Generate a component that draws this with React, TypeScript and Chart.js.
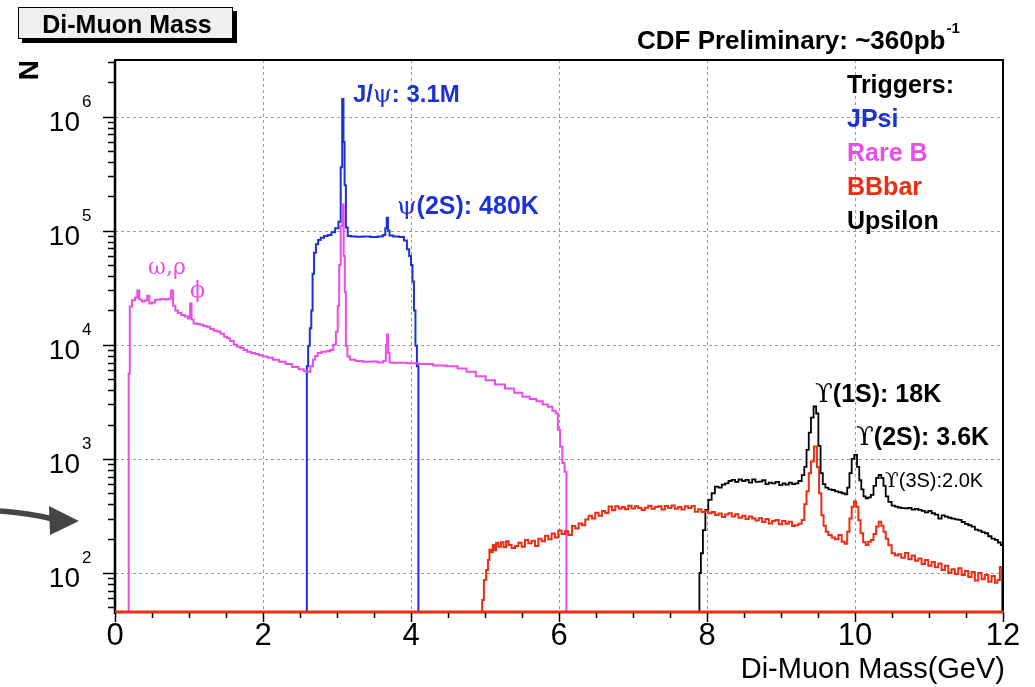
import React, { useEffect, useRef } from "react";
import { Chart, registerables } from "chart.js";

Chart.register(...registerables);

const W = 1035;
const H = 687;

// ---- axis settings ----
const X_MIN = 0;
const X_MAX = 12;
const Y_MIN = 45.5; // empty bins are drawn on this floor
const Y_MAX = 3.14e6;
const X_TICK_LABELS = [0, 2, 4, 6, 8, 10, 12];
const Y_DECADE_EXPONENTS = [2, 3, 4, 5, 6];

// ---- JPsi trigger ----
const jpsiMass = [0, 2.585, 2.6, 2.62, 2.645, 2.66, 2.68, 2.7, 2.73, 2.76, 2.8, 2.85, 2.9, 2.95, 3.0, 3.04, 3.06, 3.08, 3.095, 3.11, 3.13, 3.16, 3.22, 3.3, 3.4, 3.5, 3.6, 3.64, 3.665, 3.68, 3.7, 3.72, 3.8, 3.88, 3.93, 3.96, 3.99, 4.01, 4.03, 4.05, 4.07, 4.09, 4.11, 12];
const jpsiCounts = [0, 0, 6500, 9800, 14000, 20000, 42000, 64000, 76000, 83000, 87000, 90000, 92000, 97000, 105000, 120000, 360000, 1430000, 600000, 250000, 107000, 90000, 89000, 88500, 89000, 88000, 89000, 92000, 105000, 130000, 100000, 91000, 89000, 88000, 82000, 69000, 60000, 50000, 36000, 20000, 9800, 6500, 0, 0];

// ---- Rare B trigger ----
const rareBMass = [0, 0.18, 0.19, 0.21, 0.25, 0.29, 0.315, 0.34, 0.38, 0.42, 0.45, 0.48, 0.52, 0.56, 0.6, 0.65, 0.7, 0.74, 0.77, 0.8, 0.83, 0.87, 0.92, 0.97, 1.005, 1.025, 1.045, 1.08, 1.13, 1.17, 1.22, 1.26, 1.31, 1.36, 1.4, 1.45, 1.5, 1.53, 1.58, 1.63, 1.67, 1.72, 1.76, 1.81, 1.87, 1.92, 1.97, 2.03, 2.1, 2.17, 2.26, 2.35, 2.44, 2.52, 2.58, 2.62, 2.66, 2.69, 2.72, 2.76, 2.82, 2.88, 2.93, 2.97, 3.0, 3.02, 3.04, 3.06, 3.08, 3.1, 3.11, 3.13, 3.15, 3.2, 3.3, 3.4, 3.5, 3.6, 3.65, 3.67, 3.68, 3.7, 3.72, 3.8, 3.9, 4.0, 4.2, 4.4, 4.56, 4.7, 4.8, 4.95, 5.07, 5.2, 5.34, 5.45, 5.56, 5.65, 5.74, 5.82, 5.88, 5.94, 5.97, 6.0, 6.03, 6.06, 6.09, 6.11, 12];
const rareBCounts = [0, 0, 5600, 21700, 24600, 26000, 30000, 25000, 24000, 24500, 27000, 23000, 23500, 24800, 25000, 25200, 25000, 25300, 30000, 22000, 20000, 19000, 18300, 17700, 17000, 23000, 16700, 15400, 15200, 15000, 14600, 14400, 13800, 13300, 13100, 12500, 11800, 11400, 10800, 10000, 9600, 9400, 9000, 8700, 8500, 8300, 8100, 7900, 7700, 7400, 7100, 6800, 6400, 6100, 5900, 5800, 6500, 7400, 8000, 8500, 8700, 8800, 9000, 10000, 13000, 22000, 50000, 110000, 170000, 60000, 29000, 9800, 7900, 7400, 7200, 7100, 7150, 7000, 7200, 10000, 12300, 8500, 7000, 6950, 6950, 6900, 6800, 6600, 6500, 6200, 5800, 5300, 4900, 4500, 4150, 3800, 3500, 3350, 3200, 3000, 2870, 2650, 2500, 1800, 1280, 920, 770, 0, 0];

// ---- BBbar trigger ----
const bbbarMass = [0, 4.955, 4.97, 5.0, 5.03, 5.05, 5.07, 5.09, 5.12, 5.14, 5.16, 5.2, 5.23, 5.27, 5.3, 5.34, 5.38, 5.43, 5.47, 5.52, 5.56, 5.61, 5.65, 5.7, 5.74, 5.79, 5.83, 5.88, 5.92, 5.97, 6.01, 6.06, 6.1, 6.15, 6.2, 6.24, 6.29, 6.33, 6.38, 6.42, 6.47, 6.51, 6.56, 6.6, 6.65, 6.69, 6.74, 6.78, 6.83, 6.87, 6.91, 6.96, 7.0, 7.05, 7.09, 7.14, 7.18, 7.23, 7.27, 7.32, 7.36, 7.41, 7.45, 7.5, 7.54, 7.59, 7.63, 7.68, 7.72, 7.77, 7.81, 7.86, 7.9, 7.95, 7.99, 8.04, 8.09, 8.13, 8.18, 8.22, 8.27, 8.31, 8.36, 8.4, 8.45, 8.5, 8.54, 8.59, 8.63, 8.68, 8.72, 8.77, 8.81, 8.86, 8.9, 8.95, 8.99, 9.04, 9.08, 9.13, 9.17, 9.21, 9.26, 9.3, 9.33, 9.36, 9.39, 9.42, 9.47, 9.5, 9.53, 9.56, 9.59, 9.62, 9.66, 9.71, 9.75, 9.8, 9.84, 9.88, 9.91, 9.94, 9.97, 10.0, 10.03, 10.06, 10.09, 10.13, 10.16, 10.2, 10.23, 10.27, 10.3, 10.34, 10.37, 10.4, 10.43, 10.47, 10.52, 10.56, 10.6, 10.65, 10.7, 10.74, 10.79, 10.83, 10.88, 10.92, 10.97, 11.01, 11.06, 11.1, 11.15, 11.19, 11.24, 11.28, 11.33, 11.37, 11.42, 11.46, 11.51, 11.55, 11.6, 11.64, 11.69, 11.73, 11.78, 11.82, 11.87, 11.91, 11.94, 11.975, 12.0];
const bbbarCounts = [0, 0, 58, 87, 106, 130, 160, 152, 176, 158, 184, 170, 186, 168, 190, 176, 166, 172, 184, 170, 195, 182, 192, 172, 200, 190, 212, 198, 222, 205, 236, 220, 232, 215, 258, 245, 272, 262, 295, 318, 300, 338, 318, 350, 336, 382, 355, 385, 368, 378, 362, 388, 368, 384, 372, 356, 374, 388, 366, 378, 384, 360, 386, 372, 390, 366, 378, 360, 384, 372, 386, 345, 362, 342, 352, 334, 342, 322, 332, 310, 326, 334, 312, 328, 305, 318, 298, 312, 300, 288, 302, 280, 298, 272, 286, 292, 268, 286, 270, 282, 258, 262, 270, 292, 400, 520, 748, 950, 1282, 850, 500, 320, 260, 230, 215, 205, 198, 215, 188, 180, 230, 300, 380, 423, 380, 290, 223, 186, 176, 188, 195, 220, 255, 282, 260, 230, 200, 175, 149, 142, 146, 136, 150, 132, 142, 128, 134, 120, 130, 116, 125, 112, 121, 106, 116, 100, 108, 98, 110, 96, 104, 92, 102, 86, 100, 88, 96, 84, 94, 82, 87, 113, 0];

// ---- Upsilon trigger ----
const upsilonMass = [0, 7.89, 7.905, 7.93, 7.96, 7.995, 8.04, 8.085, 8.13, 8.18, 8.22, 8.27, 8.31, 8.36, 8.4, 8.45, 8.5, 8.54, 8.59, 8.63, 8.68, 8.72, 8.77, 8.81, 8.86, 8.9, 8.95, 9.0, 9.04, 9.08, 9.13, 9.17, 9.21, 9.26, 9.3, 9.33, 9.36, 9.39, 9.42, 9.46, 9.49, 9.52, 9.55, 9.58, 9.62, 9.66, 9.71, 9.75, 9.8, 9.84, 9.88, 9.91, 9.94, 9.97, 10.01, 10.045, 10.07, 10.1, 10.13, 10.16, 10.2, 10.23, 10.27, 10.3, 10.34, 10.37, 10.4, 10.43, 10.47, 10.52, 10.56, 10.6, 10.65, 10.7, 10.74, 10.79, 10.83, 10.88, 10.92, 10.97, 11.01, 11.06, 11.1, 11.15, 11.19, 11.24, 11.28, 11.33, 11.37, 11.42, 11.46, 11.51, 11.55, 11.6, 11.64, 11.69, 11.73, 11.78, 11.82, 11.87, 11.91, 11.95, 11.99];
const upsilonCounts = [0, 0, 100, 149, 238, 357, 437, 500, 572, 560, 594, 610, 640, 654, 630, 660, 640, 654, 620, 660, 630, 631, 650, 600, 620, 611, 630, 590, 610, 594, 620, 600, 611, 640, 720, 850, 1200, 1700, 2300, 2880, 2500, 1300, 750, 600, 560, 540, 534, 520, 510, 500, 490, 560, 750, 1000, 1085, 850, 650, 540, 470, 452, 460, 483, 580, 680, 725, 680, 580, 470, 420, 390, 382, 375, 370, 369, 372, 360, 365, 357, 350, 340, 350, 334, 325, 300, 320, 312, 305, 300, 295, 292, 280, 270, 262, 255, 240, 235, 228, 223, 210, 200, 195, 185, 176];

const TRIGGER_LABELS = ["JPsi", "Rare B", "BBbar", "Upsilon"];

const BLUE = "#1c32d2";
const MAGENTA = "#ea4ce8";
const RED = "#ec2d12";
const BLACK = "#000000";

const SANS = '"Liberation Sans", Arial, Helvetica, sans-serif';
const SERIF = '"DejaVu Serif", "Liberation Serif", serif';

function toPoints(mass: number[], counts: number[]) {
  const n = Math.min(mass.length, counts.length);
  const pts: { x: number; y: number }[] = [];
  for (let i = 0; i < n; i++) {
    pts.push({ x: mass[i], y: counts[i] > 0 ? counts[i] : Y_MIN });
  }
  return pts;
}

type Run = { t: string; font: string; dy?: number };

function drawRuns(ctx: CanvasRenderingContext2D, x: number, y: number, runs: Run[], color: string) {
  let cx = x;
  ctx.fillStyle = color;
  ctx.textAlign = "left";
  ctx.textBaseline = "alphabetic";
  for (const r of runs) {
    ctx.font = r.font;
    ctx.fillText(r.t, cx, y + (r.dy || 0));
    cx += ctx.measureText(r.t).width;
  }
  return cx;
}

const decorPlugin = {
  id: "decor",
  beforeDatasetsDraw(chart: any) {
    const { ctx, chartArea } = chart;
    const xs = chart.scales.x;
    const ys = chart.scales.y;
    ctx.save();
    ctx.strokeStyle = "#9a9a9a";
    ctx.lineWidth = 1;
    ctx.setLineDash([3, 3]);
    for (const v of X_TICK_LABELS) {
      if (v <= X_MIN || v >= X_MAX) continue;
      const px = Math.round(xs.getPixelForValue(v)) + 0.5;
      ctx.beginPath();
      ctx.moveTo(px, chartArea.top);
      ctx.lineTo(px, chartArea.bottom);
      ctx.stroke();
    }
    for (const e of Y_DECADE_EXPONENTS) {
      const py = Math.round(ys.getPixelForValue(Math.pow(10, e))) + 0.5;
      ctx.beginPath();
      ctx.moveTo(chartArea.left, py);
      ctx.lineTo(chartArea.right, py);
      ctx.stroke();
    }
    ctx.restore();
  },
  afterDatasetsDraw(chart: any) {
    const { ctx, chartArea } = chart;
    const xs = chart.scales.x;
    const ys = chart.scales.y;
    const { left, right, top, bottom } = chartArea;
    ctx.save();
    ctx.setLineDash([]);

    // frame
    ctx.strokeStyle = "#000";
    ctx.lineWidth = 2;
    ctx.beginPath();
    ctx.moveTo(left, bottom);
    ctx.lineTo(left, top);
    ctx.lineTo(right, top);
    ctx.lineTo(right, bottom);
    ctx.stroke();
    ctx.lineWidth = 2.5;
    ctx.beginPath();
    ctx.moveTo(left, bottom + 2);
    ctx.lineTo(left, top);
    ctx.stroke();
    // bottom axis (red, as in the original)
    ctx.strokeStyle = RED;
    ctx.lineWidth = 3;
    ctx.beginPath();
    ctx.moveTo(left, bottom);
    ctx.lineTo(right + 1, bottom);
    ctx.stroke();

    // y ticks (log)
    ctx.strokeStyle = "#000";
    ctx.lineWidth = 1.5;
    for (let d = 1; d <= 6; d++) {
      for (let k = 1; k <= 9; k++) {
        const v = k * Math.pow(10, d);
        if (v < Y_MIN || v > Y_MAX) continue;
        const py = Math.round(ys.getPixelForValue(v)) + 0.5;
        const len = k === 1 ? 12 : 7;
        ctx.beginPath();
        ctx.moveTo(left - len, py);
        ctx.lineTo(left, py);
        ctx.stroke();
      }
    }
    // x ticks
    for (let v = X_MIN; v <= X_MAX + 1e-9; v += 0.5) {
      const px = Math.round(xs.getPixelForValue(v)) + 0.5;
      const len = Math.abs(v % 2) < 1e-9 ? 9 : 5;
      ctx.beginPath();
      ctx.moveTo(px, bottom + 1);
      ctx.lineTo(px, bottom + 1 + len);
      ctx.stroke();
    }

    // y tick labels 10^n
    ctx.fillStyle = "#000";
    for (const e of Y_DECADE_EXPONENTS) {
      const py = ys.getPixelForValue(Math.pow(10, e));
      ctx.font = `28px ${SANS}`;
      ctx.textAlign = "right";
      ctx.textBaseline = "alphabetic";
      ctx.fillText("10", 80, py + 14);
      ctx.font = `17px ${SANS}`;
      ctx.textAlign = "left";
      ctx.fillText(String(e), 82, py - 10);
    }
    // x tick labels
    ctx.font = `31px ${SANS}`;
    ctx.textAlign = "center";
    for (const v of X_TICK_LABELS) {
      const px = xs.getPixelForValue(v);
      ctx.fillText(String(v), px, 645);
    }
    // x title
    ctx.font = `29px ${SANS}`;
    ctx.textAlign = "right";
    ctx.fillText("Di-Muon Mass(GeV)", 1005, 678);

    // y title "N" (rotated)
    ctx.save();
    ctx.translate(38, 60);
    ctx.rotate(-Math.PI / 2);
    ctx.font = `bold 28px ${SANS}`;
    ctx.textAlign = "right";
    ctx.fillText("N", 0, 0);
    ctx.restore();

    // title box
    ctx.fillStyle = "#000";
    ctx.fillRect(22, 11, 215, 32);
    ctx.fillStyle = "#efefef";
    ctx.fillRect(18, 7, 215, 32);
    ctx.strokeStyle = "#000";
    ctx.lineWidth = 1;
    ctx.strokeRect(18.5, 7.5, 214, 31);
    ctx.fillStyle = "#000";
    ctx.font = `bold 25px ${SANS}`;
    ctx.textAlign = "center";
    ctx.fillText("Di-Muon Mass", 127, 33);

    // CDF Preliminary
    const endX = drawRuns(ctx, 637, 49, [{ t: "CDF Preliminary: ~360pb", font: `bold 26px ${SANS}` }], "#000");
    drawRuns(ctx, endX + 1, 33, [{ t: "-1", font: `bold 15px ${SANS}` }], "#000");

    // legend-like text block
    const legendColors = [BLUE, MAGENTA, RED, BLACK];
    drawRuns(ctx, 847, 93, [{ t: "Triggers:", font: `bold 25px ${SANS}` }], "#000");
    TRIGGER_LABELS.forEach((lab, i) => {
      drawRuns(ctx, 847, 127 + i * 34, [{ t: lab, font: `bold 25px ${SANS}` }], legendColors[i]);
    });

    // peak annotations
    drawRuns(ctx, 353, 102, [
      { t: "J/", font: `bold 24px ${SANS}` },
      { t: "ψ", font: `24px ${SERIF}` },
      { t: ": 3.1M", font: `bold 24px ${SANS}` },
    ], BLUE);
    drawRuns(ctx, 397, 214, [
      { t: "ψ", font: `25px ${SERIF}` },
      { t: "(2S): 480K", font: `bold 25px ${SANS}` },
    ], BLUE);
    drawRuns(ctx, 148, 274, [{ t: "ω,ρ", font: `22px ${SERIF}` }], MAGENTA);
    drawRuns(ctx, 190, 297, [{ t: "ϕ", font: `22px ${SERIF}` }], MAGENTA);
    drawRuns(ctx, 815, 402, [
      { t: "ϒ", font: `26px ${SERIF}` },
      { t: "(1S): 18K", font: `bold 25px ${SANS}` },
    ], BLACK);
    drawRuns(ctx, 856, 445, [
      { t: "ϒ", font: `26px ${SERIF}` },
      { t: "(2S): 3.6K", font: `bold 25px ${SANS}` },
    ], BLACK);
    drawRuns(ctx, 885, 487, [
      { t: "ϒ", font: `20px ${SERIF}` },
      { t: "(3S):2.0K", font: `20px ${SANS}` },
    ], BLACK);

    // arrow on the left
    ctx.strokeStyle = "#454545";
    ctx.fillStyle = "#454545";
    ctx.lineWidth = 5.5;
    ctx.lineCap = "butt";
    ctx.beginPath();
    ctx.moveTo(0, 511);
    ctx.quadraticCurveTo(28, 513, 53, 519);
    ctx.stroke();
    ctx.beginPath();
    ctx.moveTo(79, 521);
    ctx.lineTo(49, 506);
    ctx.lineTo(50, 535);
    ctx.closePath();
    ctx.fill();

    ctx.restore();
  },
};

export default function App() {
  const ref = useRef<HTMLCanvasElement | null>(null);

  useEffect(() => {
    const canvas = ref.current;
    if (!canvas) return;
    const common = {
      stepped: "middle" as const,
      pointRadius: 0,
      pointHoverRadius: 0,
      fill: false,
      tension: 0,
      clip: false as any,
    };
    const chart = new Chart(canvas, {
      type: "line",
      data: {
        datasets: [
          { label: "BBbar", data: toPoints(bbbarMass, bbbarCounts), borderColor: RED, borderWidth: 2, order: 0, ...common },
          { label: "Upsilon", data: toPoints(upsilonMass, upsilonCounts), borderColor: BLACK, borderWidth: 1.8, order: 1, ...common },
          { label: "Rare B", data: toPoints(rareBMass, rareBCounts), borderColor: MAGENTA, borderWidth: 2, order: 2, ...common },
          { label: "JPsi", data: toPoints(jpsiMass, jpsiCounts), borderColor: BLUE, borderWidth: 2, order: 3, ...common },
        ],
      },
      options: {
        responsive: false,
        animation: false,
        devicePixelRatio: 1,
        events: [],
        layout: { padding: { left: 115, top: 60, right: 32, bottom: 75 }, autoPadding: false },
        plugins: { legend: { display: false }, tooltip: { enabled: false }, title: { display: false } },
        scales: {
          x: {
            type: "linear",
            min: X_MIN,
            max: X_MAX,
            ticks: { display: false },
            grid: { display: false, drawTicks: false },
            border: { display: false },
          },
          y: {
            type: "logarithmic",
            min: Y_MIN,
            max: Y_MAX,
            ticks: { display: false },
            grid: { display: false, drawTicks: false },
            border: { display: false },
          },
        },
      },
      plugins: [decorPlugin],
    });
    return () => chart.destroy();
  }, []);

  return (
    <div style={{ position: "absolute", left: 0, top: 0, width: W, height: H, background: "#fff" }}>
      <canvas ref={ref} width={W} height={H} style={{ display: "block", width: W, height: H }} />
    </div>
  );
}
